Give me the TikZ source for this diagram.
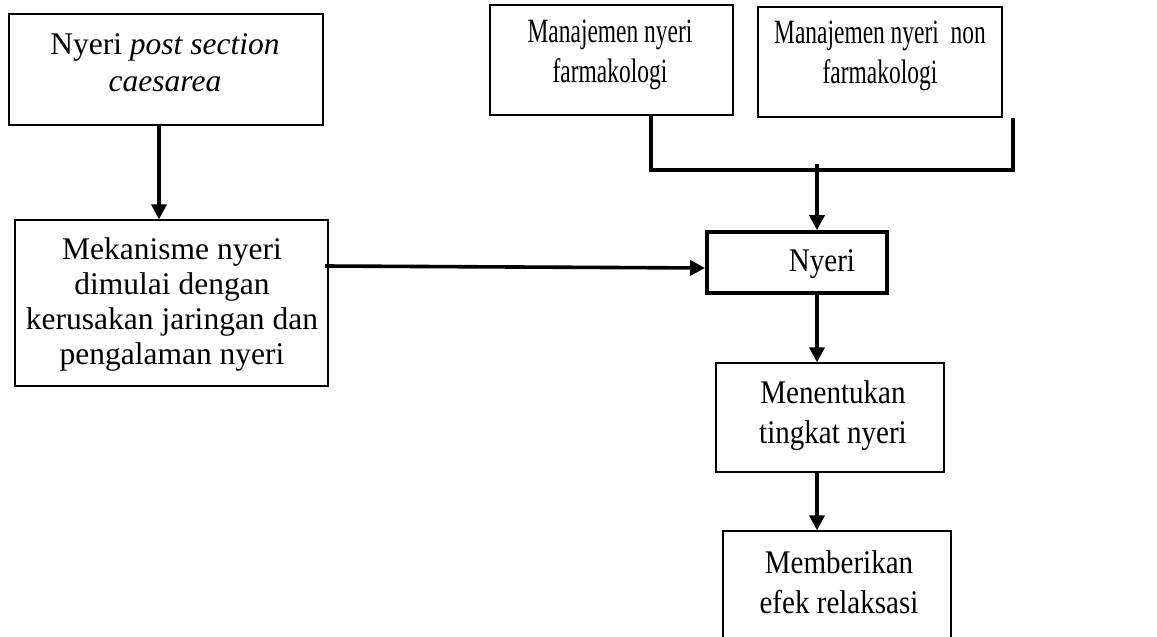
\documentclass[tikz,border=0pt]{standalone}
\usepackage{fontspec}
\setmainfont{Liberation Serif}
\newfontfamily\narrowA[FakeStretch=0.69]{Liberation Serif}
\newfontfamily\narrowB[FakeStretch=0.88]{Liberation Serif}
\usetikzlibrary{arrows.meta}
\begin{document}
\begin{tikzpicture}[x=1pt,y=-1pt,
  box/.style={draw=black,line width=1.3pt,inner sep=0pt,rectangle},
  thickbox/.style={draw=black,line width=3.8pt,inner sep=0pt,rectangle},
  txt/.style={inner sep=0pt,align=center,font=\fontsize{31.5}{36}\selectfont},
  txta/.style={inner sep=0pt,align=center,font=\narrowA\fontsize{34}{40}\selectfont},
  txtb/.style={inner sep=0pt,align=center,font=\narrowB\fontsize{33}{40}\selectfont},
  conn/.style={line width=3.6pt},
  arr/.style={line width=3.6pt,-{Triangle[length=15pt,width=15pt]}}]
\useasboundingbox (0,0) rectangle (1157,637);
\clip (0,0) rectangle (1157,637);
% boxes
\node[box,minimum width=314pt,minimum height=111pt] (b1) at (166,69.5) {};
\node[box,minimum width=313pt,minimum height=166pt] (b2) at (171.5,303) {};
\node[box,minimum width=243pt,minimum height=110pt] (b3) at (611.5,60) {};
\node[box,minimum width=244pt,minimum height=110pt] (b4) at (880,62) {};
\node[thickbox,minimum width=180pt,minimum height=61pt] (ny) at (797,262.5) {};
\node[box,minimum width=228pt,minimum height=109pt] (b5) at (830,417.5) {};
\node[box,minimum width=228pt,minimum height=140pt] (b6) at (837,601) {};
% texts
\node[txt,font=\fontsize{31.5}{37}\selectfont] (t1) at (165,63) {Nyeri \textit{post section}\\\textit{caesarea}};
\node[txt,font=\fontsize{31.5}{35}\selectfont] (t2) at (172,304) {Mekanisme nyeri\\dimulai dengan\\kerusakan jaringan dan\\pengalaman nyeri};
\node[txta] (t3) at (610,55) {Manajemen nyeri\\farmakologi};
\node[txta] (t4) at (880,56) {Manajemen nyeri\ \ non\\farmakologi};
\node[txtb] (tn) at (822,264) {Nyeri};
\node[txtb] (t5) at (833,416) {Menentukan\\tingkat nyeri};
\node[txtb] (t6) at (839,582) {Memberikan\\efek relaksasi};
% connectors
\coordinate (j1) at (651,170);
\coordinate (j2) at (1013,170);
\coordinate (j3) at (817,164);
\coordinate (c1) at (159,0);
\coordinate (s2) at (325,266);
\draw[arr] (b1.south -| c1) -- (b2.north -| c1);
\draw[conn] (b3.south -| j1) -- (j1) -- (j2) -- (b4.south -| j2);
\draw[arr] (j3) -- (ny.north -| j3);
\draw[arr] (s2) -- ([yshift=-5.5pt]ny.west);
\draw[arr] (ny.south -| j3) -- (b5.north -| j3);
\draw[arr] (b5.south -| j3) -- (b6.north -| j3);
\end{tikzpicture}
\end{document}
